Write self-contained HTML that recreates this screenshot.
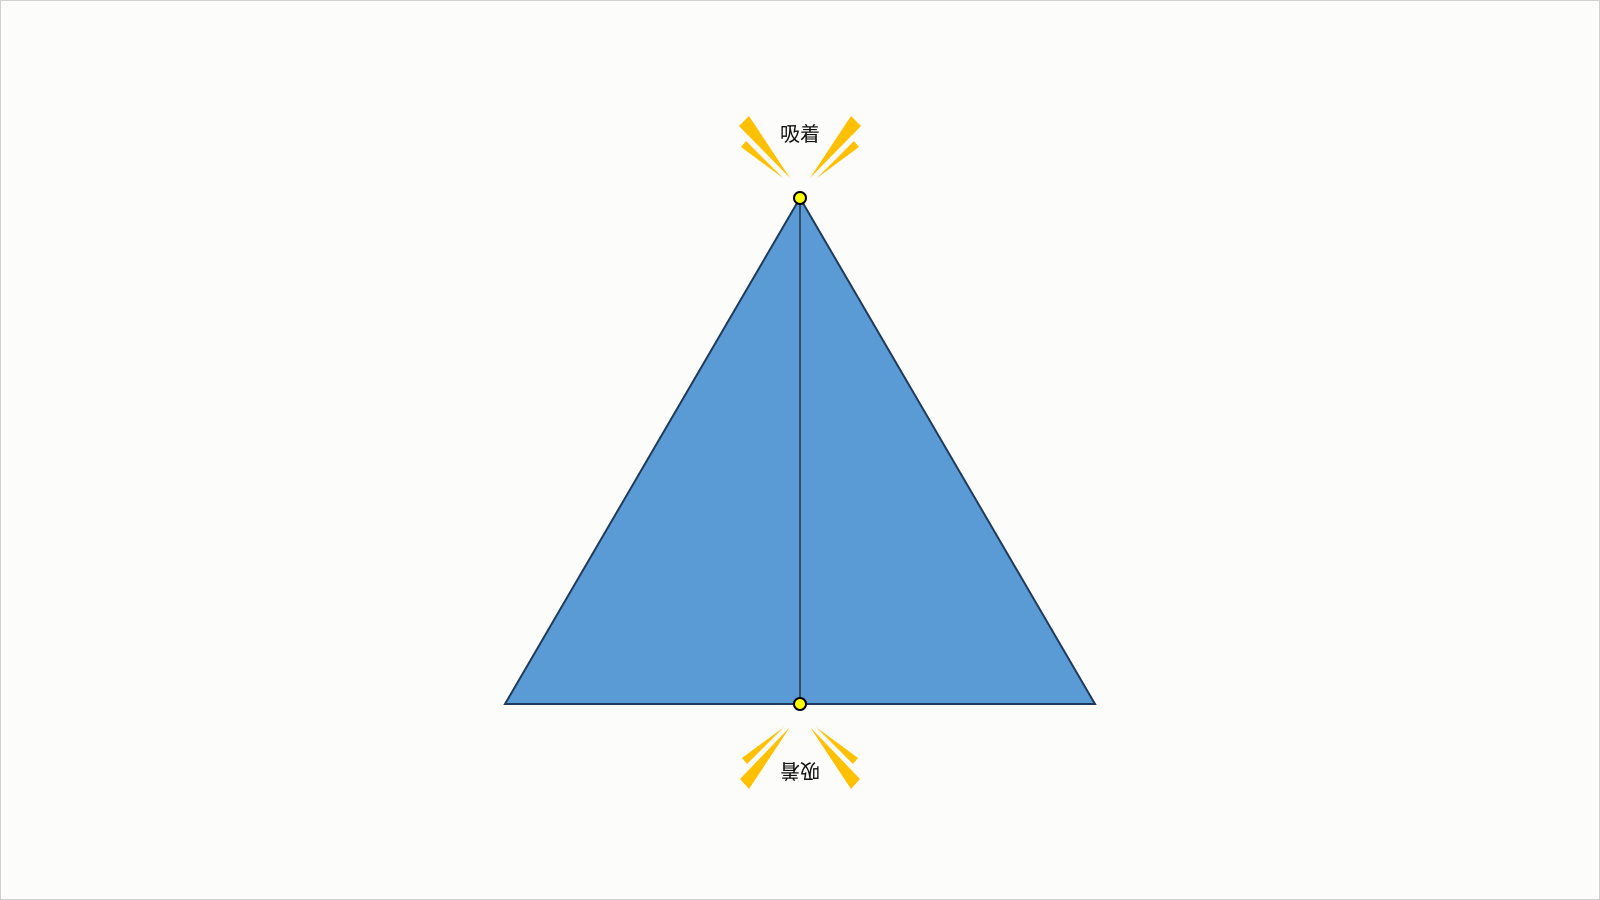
<!DOCTYPE html>
<html><head><meta charset="utf-8"><style>
html,body{margin:0;padding:0;background:#fcfdfa;}
svg{display:block}
</style></head><body>
<svg width="1600" height="900" viewBox="0 0 1600 900">
<rect x="0.5" y="0.5" width="1599" height="899" fill="#fcfdfa" stroke="#d0d0d0"/>
<polygon points="800,198 505,704 1095,704" fill="#5b9bd5" stroke="#1f3a5a" stroke-width="2"/>
<line x1="800" y1="198" x2="800" y2="704" stroke="#000" stroke-width="1"/>
<circle cx="800" cy="198" r="6" fill="#ffff00" stroke="#000" stroke-width="2"/>
<circle cx="800" cy="704" r="6" fill="#ffff00" stroke="#000" stroke-width="2"/>
<g fill="#ffc000">
<polygon points="739,126 749,116 790,178"/>
<polygon points="741,147 746,141 783,178"/>
<polygon points="861,126 851,116 810,178"/>
<polygon points="859,147 854,141 817,178"/>
</g>
<g fill="#ffc000">
<polygon points="740,779 749,789 790,727"/>
<polygon points="742,758 747,764 784,727"/>
<polygon points="860,779 851,789 810,727"/>
<polygon points="858,758 853,764 816,727"/>
</g>
<text x="800" y="141" text-anchor="middle" font-size="20" font-family="Liberation Sans, Noto Sans CJK JP, sans-serif" fill="#111">吸着</text>
<text x="800" y="141" text-anchor="middle" font-size="20" font-family="Liberation Sans, Noto Sans CJK JP, sans-serif" fill="#111" transform="rotate(180 800 764) translate(0 623)">吸着</text>
</svg>
</body></html>
